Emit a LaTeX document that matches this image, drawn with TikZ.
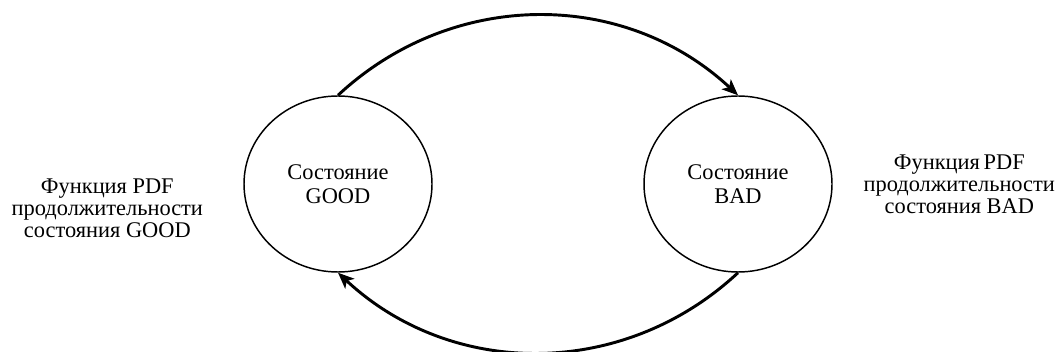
\documentclass[tikz,border=0pt]{standalone}
\usepackage{fontspec}
\setmainfont{Liberation Serif}
\usepackage{tikz}
\usetikzlibrary{shapes,arrows,arrows.meta,calc,positioning}
\tikzset{
    auto,node distance =1 cm and 1 cm,
    state/.style ={ellipse, draw, line width=1.1pt, minimum width = 141pt, minimum height = 132pt, inner sep=0pt, align=center, font=\fontsize{16.8}{18}\selectfont},
    transition/.style={line width=2.2pt, -{Stealth[length=12pt,width=10pt,inset=3pt]}},
    el/.style = {inner sep=0pt, align=center, font=\fontsize{16.8}{16.5}\selectfont}
}

\begin{document}
\begin{tikzpicture}[x=0.75pt,y=-0.75pt]
        \useasboundingbox (0,0) rectangle (1055,352);
        \node[state] (good) at (338,184) {Состояние\\GOOD};
        \node[state] (bad) at (738,184) {Состояние\\BAD};
        % Transitions between the states
        \path[transition] (good.north) edge[bend left=43] (bad.north);
        \path[transition] (bad.south) edge[bend left=43] (good.south);
        % Label the states with their duration PDFs
        \node[el, yshift=-18pt] (goodpdf) [left=30pt of good] {Функция PDF\\продолжительности\\состояния GOOD};
        \node[el] (badpdf) [right=23pt of bad] {Функция\,PDF\\продолжительности\\состояния BAD};
    \end{tikzpicture}
\end{document}
